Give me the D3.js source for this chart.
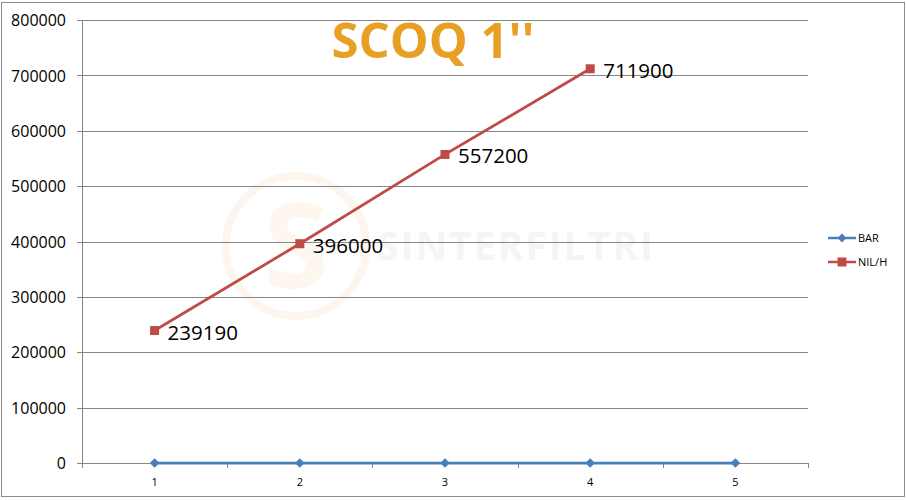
<!DOCTYPE html>
<html>
<head>
<meta charset="utf-8">
<script src="https://cdn.jsdelivr.net/npm/d3@7"></script>
<style>
  body { margin: 0; background: #fff; }
  svg text { font-family: "Open Sans", sans-serif; }
</style>
</head>
<body>
<div id="the_chart"></div>
<script>
var categories = [1, 2, 3, 4, 5];
var barValues = [0, 0, 0, 0, 0];
var nilValues = [239190, 396000, 557200, 711900];
var yTicks = [0, 100000, 200000, 300000, 400000, 500000, 600000, 700000, 800000];
var seriesNames = ["BAR", "NIL/H"];
var titleText = "SCOQ 1''";

var W = 906, H = 500;
var plot = {left: 82, right: 808, top: 20, bottom: 463};

var svg = d3.select("#the_chart").append("svg")
  .attr("width", W).attr("height", H);

// outer frame
svg.append("rect")
  .attr("x", 1.5).attr("y", 2.5)
  .attr("width", 903).attr("height", 494)
  .attr("fill", "#fff").attr("stroke", "#8c8c8c").attr("stroke-width", 1);

var xscale = d3.scaleBand()
  .domain(categories)
  .range([plot.left, plot.right]);

var yscale = d3.scaleLinear()
  .domain([0, 800000])
  .range([plot.bottom, plot.top]);

// faint watermark
var wm = svg.append("g");
wm.append("circle").attr("cx", 296).attr("cy", 246).attr("r", 70)
  .attr("fill", "none").attr("stroke", "#fdf6ee").attr("stroke-width", 8);
wm.append("text").attr("x", 296).attr("y", 288)
  .attr("text-anchor", "middle").style("font-size", "118px").style("font-weight", "bold")
  .attr("fill", "#fdf7ef").text("S");
wm.append("text").attr("x", 377).attr("y", 260)
  .style("font-size", "39px").style("font-weight", "bold").style("letter-spacing", "2px")
  .attr("fill", "#f5f5f5").text("SINTERFILTRI");

// gridlines
svg.append("g").selectAll("line")
  .data(yTicks).enter().append("line")
  .attr("x1", plot.left - 5).attr("x2", plot.right)
  .attr("y1", function(d) { return Math.round(yscale(d)) + 0.5; })
  .attr("y2", function(d) { return Math.round(yscale(d)) + 0.5; })
  .attr("stroke", "#868686").attr("stroke-width", 1);

// y axis
var yAxis = d3.axisLeft(yscale)
  .tickValues(yTicks)
  .tickSize(0)
  .tickPadding(16)
  .tickFormat(function(d) { return d; });
var yg = svg.append("g")
  .attr("transform", "translate(" + plot.left + ",0.5)")
  .call(yAxis);
yg.select(".domain").remove();
yg.selectAll("text").style("font-size", "16px").attr("fill", "#000")
  .style("font-family", "'Open Sans', sans-serif");

svg.append("line")
  .attr("x1", plot.left + 0.5).attr("x2", plot.left + 0.5)
  .attr("y1", plot.top).attr("y2", plot.bottom + 5)
  .attr("stroke", "#868686");

// x axis
var xTickPos = d3.range(categories.length + 1).map(function(i) {
  return plot.left + i * xscale.bandwidth();
});
svg.append("g").selectAll("line")
  .data(xTickPos).enter().append("line")
  .attr("x1", function(d) { return Math.round(d) + 0.5; })
  .attr("x2", function(d) { return Math.round(d) + 0.5; })
  .attr("y1", plot.bottom).attr("y2", plot.bottom + 5)
  .attr("stroke", "#868686");
svg.append("g").selectAll("text")
  .data(categories).enter().append("text")
  .attr("x", function(d) { return xscale(d) + xscale.bandwidth() / 2; })
  .attr("y", 486)
  .attr("text-anchor", "middle")
  .style("font-size", "11px")
  .text(function(d) { return d; });

function cx(i) { return xscale(categories[i]) + xscale.bandwidth() / 2; }

var line = d3.line()
  .x(function(d, i) { return cx(i); })
  .y(function(d) { return yscale(d); });

// BAR series
svg.append("path").datum(barValues)
  .attr("d", line).attr("fill", "none")
  .attr("stroke", "#4a7ebb").attr("stroke-width", 2.75);
svg.append("g").selectAll("path")
  .data(barValues).enter().append("path")
  .attr("d", d3.symbol().type(d3.symbolDiamond2).size(60))
  .attr("transform", function(d, i) { return "translate(" + cx(i) + "," + yscale(d) + ")"; })
  .attr("fill", "#4a7ebb");

// NIL/H series
svg.append("path").datum(nilValues)
  .attr("d", line).attr("fill", "none")
  .attr("stroke", "#be4b48").attr("stroke-width", 2.75);
svg.append("g").selectAll("rect")
  .data(nilValues).enter().append("rect")
  .attr("x", function(d, i) { return cx(i) - 4.5; })
  .attr("y", function(d) { return yscale(d) - 4.5; })
  .attr("width", 9).attr("height", 9)
  .attr("fill", "#be4b48");
svg.append("g").selectAll("text")
  .data(nilValues).enter().append("text")
  .attr("x", function(d, i) { return cx(i) + 13; })
  .attr("y", function(d) { return yscale(d) + 9; })
  .style("font-size", "20.5px")
  .attr("fill", "#000")
  .text(function(d) { return d; });

// title
svg.append("text")
  .attr("x", 433).attr("y", 58)
  .attr("text-anchor", "middle")
  .style("font-size", "49px").style("font-weight", "bold")
  .attr("fill", "#e8a024")
  .text(titleText);

// legend
var legColors = ["#4a7ebb", "#be4b48"];
var leg = svg.append("g").selectAll("g")
  .data(seriesNames).enter().append("g")
  .attr("transform", function(d, i) { return "translate(828," + (238 + i * 24) + ")"; });
leg.append("line").attr("x1", 0).attr("x2", 28)
  .attr("stroke", function(d, i) { return legColors[i]; }).attr("stroke-width", 2.5);
leg.append("path")
  .attr("d", function(d, i) {
    return i === 0 ? d3.symbol().type(d3.symbolDiamond2).size(50)() : "M-4.5,-4.5h9v9h-9z";
  })
  .attr("transform", "translate(14,0)")
  .attr("fill", function(d, i) { return legColors[i]; });
leg.append("text").attr("x", 30).attr("y", 4)
  .style("font-size", "11px")
  .text(function(d) { return d; });
</script>
</body>
</html>
